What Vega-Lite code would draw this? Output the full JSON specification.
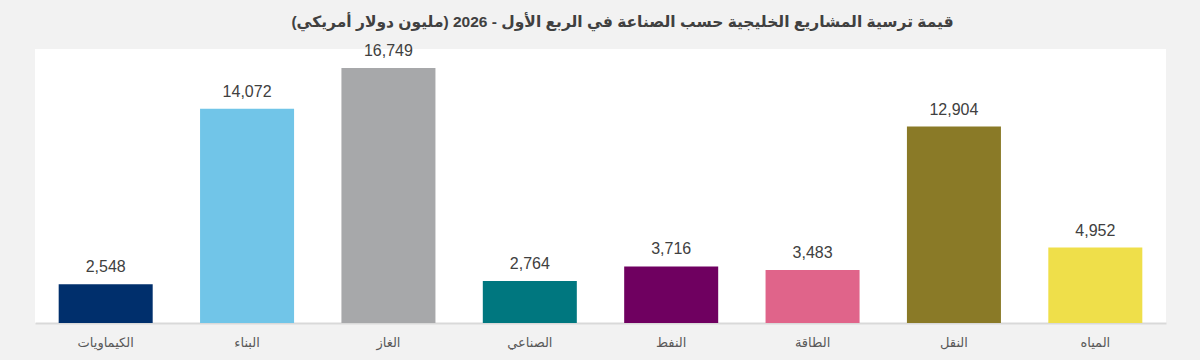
{
  "$schema": "https://vega.github.io/schema/vega-lite/v6.json",
  "autosize": {"type": "none"},
  "width": 1131,
  "height": 274,
  "padding": {"left": 35, "top": 49, "right": 34, "bottom": 37},
  "background": "#f2f2f2",
  "title": {
    "text": "قيمة ترسية المشاريع الخليجية حسب الصناعة في الربع الأول - 2026 (مليون دولار أمريكي)",
    "font": "Liberation Sans, DejaVu Sans",
    "fontSize": 15.5,
    "fontWeight": "bold",
    "color": "#404040",
    "anchor": "middle",
    "dx": 22,
    "offset": 13
  },
  "config": {
    "view": {"fill": "#ffffff", "stroke": null},
    "font": "Liberation Sans, DejaVu Sans"
  },
  "data": {
    "values": [
      {"sector": "الكيماويات", "value": 2548},
      {"sector": "البناء", "value": 14072},
      {"sector": "الغاز", "value": 16749},
      {"sector": "الصناعي", "value": 2764},
      {"sector": "النفط", "value": 3716},
      {"sector": "الطاقة", "value": 3483},
      {"sector": "النقل", "value": 12904},
      {"sector": "المياه", "value": 4952}
    ]
  },
  "encoding": {
    "x": {
      "field": "sector",
      "type": "nominal",
      "sort": null,
      "scale": {"paddingInner": 0.335, "paddingOuter": 0.1675},
      "axis": {
        "title": null,
        "labelAngle": 0,
        "labelFontSize": 13,
        "labelColor": "#595959",
        "labelFont": "Liberation Sans, DejaVu Sans",
        "labelPadding": 13,
        "ticks": false,
        "domainColor": "#d9d9d9",
        "domainWidth": 2
      }
    },
    "y": {
      "field": "value",
      "type": "quantitative",
      "scale": {"domain": [0, 18000]},
      "axis": null
    }
  },
  "layer": [
    {
      "mark": {"type": "bar"},
      "encoding": {
        "color": {
          "field": "sector",
          "type": "nominal",
          "sort": null,
          "scale": {
            "domain": ["الكيماويات", "البناء", "الغاز", "الصناعي", "النفط", "الطاقة", "النقل", "المياه"],
            "range": ["#002F6C", "#71C5E8", "#A7A8AA", "#00777F", "#6F0060", "#E0648A", "#8A7A27", "#EFDF4A"]
          },
          "legend": null
        }
      }
    },
    {
      "mark": {"type": "text", "baseline": "alphabetic", "dy": -12, "fontSize": 16, "color": "#404040"},
      "encoding": {
        "text": {"field": "value", "type": "quantitative", "format": ","}
      }
    }
  ]
}
